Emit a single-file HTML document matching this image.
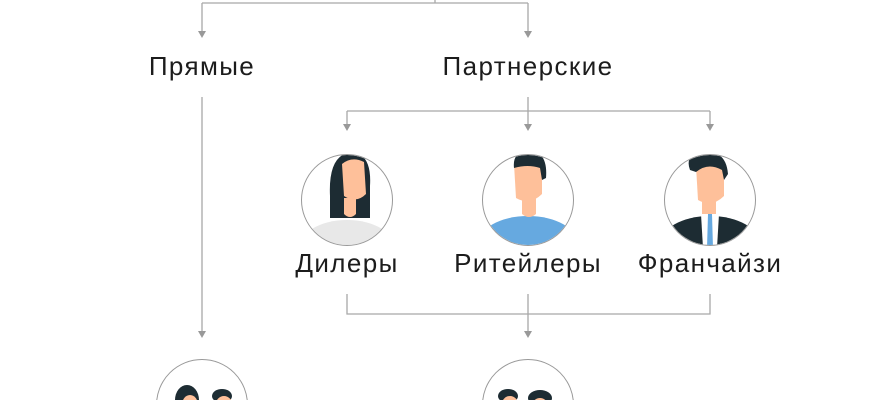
<!DOCTYPE html>
<html><head><meta charset="utf-8"><style>
html,body{margin:0;padding:0;background:#fff;width:870px;height:400px;overflow:hidden}
svg{display:block}
text{font-family:"Liberation Sans",sans-serif;font-size:26px;fill:#1c1c1c;text-anchor:middle;letter-spacing:1.4px}
</style></head><body>
<svg width="870" height="400" viewBox="0 0 870 400" xmlns="http://www.w3.org/2000/svg">
<defs>
<clipPath id="c1"><circle cx="347" cy="214" r="45"/></clipPath>
<clipPath id="c2"><circle cx="528" cy="214" r="45"/></clipPath>
<clipPath id="c3"><circle cx="710" cy="214" r="45"/></clipPath>
<clipPath id="c4"><circle cx="202" cy="405" r="45"/></clipPath>
<clipPath id="c5"><circle cx="528" cy="405" r="45"/></clipPath>
</defs>
<g stroke="#a8a8a8" stroke-width="1.3" fill="none">
<path d="M435,0 V3 M202,3 H528"/>
<path d="M202,3 V32"/><path d="M528,3 V32"/>
<path d="M528,97 V127"/>
<path d="M347,111 H710"/>
<path d="M347,111 V127"/><path d="M710,111 V127"/>
<path d="M202,97 V333"/>
<path d="M347,294 V314 H710 V294"/>
<path d="M528,294 V333"/>
</g>
<g fill="#999">
<path d="M198,31 H206 L202,38Z"/><path d="M524,31 H532 L528,38Z"/>
<path d="M343,124 H351 L347,131Z"/><path d="M524,124 H532 L528,131Z"/><path d="M706,124 H714 L710,131Z"/>
<path d="M198,331 H206 L202,338Z"/><path d="M524,331 H532 L528,338Z"/>
</g>
<text x="202" y="75">Прямые</text>
<text x="528" y="75">Партнерские</text>
<text x="347" y="272">Дилеры</text>
<text x="528" y="272">Ритейлеры</text>
<text x="710" y="272">Франчайзи</text>
<g transform="translate(0,-14)">
<g clip-path="url(#c1)">
<path d="M330,210 Q328,168 352,166 Q372,168 370,200 L370,232 L330,232 Z" fill="#1d2c33"/>
<ellipse cx="347" cy="262" rx="48" ry="28" fill="#e8e8e8"/>
<path d="M344,212 L356,212 L356,228 Q350,234 344,228Z" fill="#fec09a"/>
<path d="M342,178 Q352,170 364,176 L366,208 Q356,218 344,210 Z" fill="#fec09a"/>
</g>
<circle cx="347" cy="214" r="45.5" fill="none" stroke="#999" stroke-width="1"/>
<g clip-path="url(#c2)">
<ellipse cx="528" cy="258" rx="50" ry="28" fill="#66a9e0"/>
<path d="M522,210 L536,210 L536,228 Q529,234 522,228Z" fill="#fec09a"/>
<path d="M514,178 Q528,172 542,180 L542,208 Q530,220 516,212 Z" fill="#fec09a"/>
<path d="M514,182 Q512,164 532,164 Q548,168 546,192 L542,194 L540,182 Q528,178 514,182Z" fill="#1d2c33"/>
</g>
<circle cx="528" cy="214" r="45.5" fill="none" stroke="#999" stroke-width="1"/>
<g clip-path="url(#c3)">
<ellipse cx="710" cy="258" rx="50" ry="28" fill="#1d2c33"/>
<path d="M701,228 L719,228 L717,262 L703,262Z" fill="#fff"/>
<path d="M708,228 L712,228 L713,262 L707,262Z" fill="#66a9e0"/>
<path d="M702,212 L716,212 L716,228 L702,228Z" fill="#fec09a"/>
<path d="M696,180 Q710,174 724,182 L724,210 Q712,222 698,214 Z" fill="#fec09a"/>
<path d="M690,184 Q684,168 704,166 Q726,164 728,188 L724,194 L722,184 Q708,176 696,186Z" fill="#1d2c33"/>
</g>
<circle cx="710" cy="214" r="45.5" fill="none" stroke="#999" stroke-width="1"/>
</g>
<g clip-path="url(#c4)">
<ellipse cx="187" cy="400" rx="12" ry="15" fill="#1d2c33"/><ellipse cx="190" cy="405" rx="8" ry="10" fill="#fec09a"/>
<ellipse cx="222" cy="396" rx="10" ry="7" fill="#1d2c33"/><ellipse cx="224" cy="404" rx="8" ry="8" fill="#fec09a"/>
</g>
<circle cx="202" cy="405" r="45.5" fill="none" stroke="#999" stroke-width="1"/>
<g clip-path="url(#c5)">
<ellipse cx="508" cy="396" rx="10" ry="7" fill="#1d2c33"/><ellipse cx="510" cy="404" rx="8" ry="8" fill="#fec09a"/>
<ellipse cx="540" cy="398" rx="12" ry="8" fill="#1d2c33"/><ellipse cx="540" cy="406" rx="8" ry="8" fill="#fec09a"/>
</g>
<circle cx="528" cy="405" r="45.5" fill="none" stroke="#999" stroke-width="1"/>
</svg>
</body></html>
